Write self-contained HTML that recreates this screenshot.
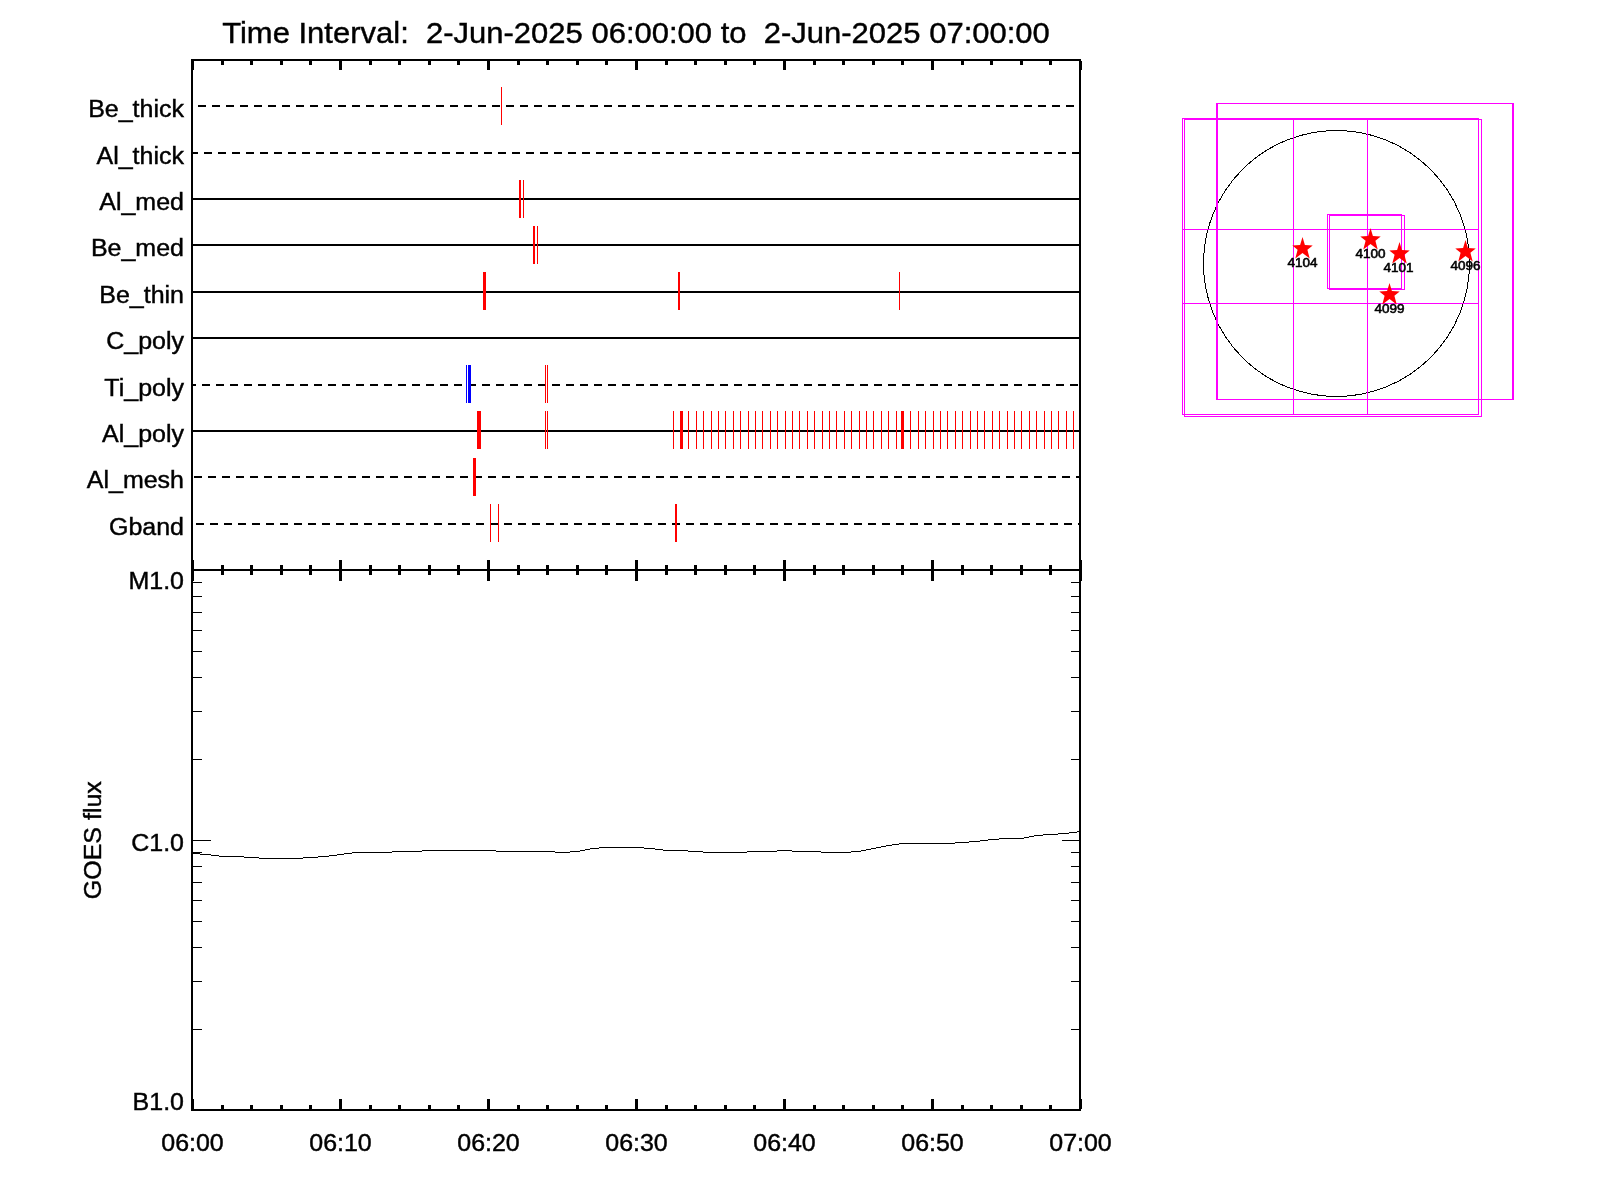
<!DOCTYPE html>
<html><head><meta charset="utf-8"><style>
html,body{margin:0;padding:0;background:#fff;width:1600px;height:1200px;overflow:hidden}
svg{position:absolute;left:0;top:0;will-change:transform}
text{font-family:"Liberation Sans",sans-serif;fill:#000;stroke:#000;stroke-width:0.45px;white-space:pre}
</style></head><body>
<svg width="1600" height="1200" viewBox="0 0 1600 1200">
<g shape-rendering="crispEdges">
<rect x="191" y="59" width="890" height="2" fill="#000"/>
<rect x="191" y="569" width="890" height="2" fill="#000"/>
<rect x="191" y="1109" width="890" height="2" fill="#000"/>
<rect x="191" y="59" width="2" height="1052" fill="#000"/>
<rect x="1079" y="59" width="2" height="1052" fill="#000"/>
<rect x="1081" y="569" width="1" height="2" fill="#000"/>
<rect x="191" y="61" width="3" height="9" fill="#000"/>
<rect x="191" y="560" width="3" height="9" fill="#000"/>
<rect x="191" y="571" width="3" height="10" fill="#000"/>
<rect x="191" y="1099" width="3" height="10" fill="#000"/>
<rect x="221" y="61" width="3" height="4" fill="#000"/>
<rect x="221" y="565" width="3" height="4" fill="#000"/>
<rect x="221" y="571" width="3" height="4" fill="#000"/>
<rect x="221" y="1105" width="3" height="4" fill="#000"/>
<rect x="250" y="61" width="3" height="4" fill="#000"/>
<rect x="250" y="565" width="3" height="4" fill="#000"/>
<rect x="250" y="571" width="3" height="4" fill="#000"/>
<rect x="250" y="1105" width="3" height="4" fill="#000"/>
<rect x="280" y="61" width="3" height="4" fill="#000"/>
<rect x="280" y="565" width="3" height="4" fill="#000"/>
<rect x="280" y="571" width="3" height="4" fill="#000"/>
<rect x="280" y="1105" width="3" height="4" fill="#000"/>
<rect x="309" y="61" width="3" height="4" fill="#000"/>
<rect x="309" y="565" width="3" height="4" fill="#000"/>
<rect x="309" y="571" width="3" height="4" fill="#000"/>
<rect x="309" y="1105" width="3" height="4" fill="#000"/>
<rect x="339" y="61" width="3" height="9" fill="#000"/>
<rect x="339" y="560" width="3" height="9" fill="#000"/>
<rect x="339" y="571" width="3" height="10" fill="#000"/>
<rect x="339" y="1099" width="3" height="10" fill="#000"/>
<rect x="369" y="61" width="3" height="4" fill="#000"/>
<rect x="369" y="565" width="3" height="4" fill="#000"/>
<rect x="369" y="571" width="3" height="4" fill="#000"/>
<rect x="369" y="1105" width="3" height="4" fill="#000"/>
<rect x="398" y="61" width="3" height="4" fill="#000"/>
<rect x="398" y="565" width="3" height="4" fill="#000"/>
<rect x="398" y="571" width="3" height="4" fill="#000"/>
<rect x="398" y="1105" width="3" height="4" fill="#000"/>
<rect x="428" y="61" width="3" height="4" fill="#000"/>
<rect x="428" y="565" width="3" height="4" fill="#000"/>
<rect x="428" y="571" width="3" height="4" fill="#000"/>
<rect x="428" y="1105" width="3" height="4" fill="#000"/>
<rect x="457" y="61" width="3" height="4" fill="#000"/>
<rect x="457" y="565" width="3" height="4" fill="#000"/>
<rect x="457" y="571" width="3" height="4" fill="#000"/>
<rect x="457" y="1105" width="3" height="4" fill="#000"/>
<rect x="487" y="61" width="3" height="9" fill="#000"/>
<rect x="487" y="560" width="3" height="9" fill="#000"/>
<rect x="487" y="571" width="3" height="10" fill="#000"/>
<rect x="487" y="1099" width="3" height="10" fill="#000"/>
<rect x="517" y="61" width="3" height="4" fill="#000"/>
<rect x="517" y="565" width="3" height="4" fill="#000"/>
<rect x="517" y="571" width="3" height="4" fill="#000"/>
<rect x="517" y="1105" width="3" height="4" fill="#000"/>
<rect x="546" y="61" width="3" height="4" fill="#000"/>
<rect x="546" y="565" width="3" height="4" fill="#000"/>
<rect x="546" y="571" width="3" height="4" fill="#000"/>
<rect x="546" y="1105" width="3" height="4" fill="#000"/>
<rect x="576" y="61" width="3" height="4" fill="#000"/>
<rect x="576" y="565" width="3" height="4" fill="#000"/>
<rect x="576" y="571" width="3" height="4" fill="#000"/>
<rect x="576" y="1105" width="3" height="4" fill="#000"/>
<rect x="605" y="61" width="3" height="4" fill="#000"/>
<rect x="605" y="565" width="3" height="4" fill="#000"/>
<rect x="605" y="571" width="3" height="4" fill="#000"/>
<rect x="605" y="1105" width="3" height="4" fill="#000"/>
<rect x="635" y="61" width="3" height="9" fill="#000"/>
<rect x="635" y="560" width="3" height="9" fill="#000"/>
<rect x="635" y="571" width="3" height="10" fill="#000"/>
<rect x="635" y="1099" width="3" height="10" fill="#000"/>
<rect x="665" y="61" width="3" height="4" fill="#000"/>
<rect x="665" y="565" width="3" height="4" fill="#000"/>
<rect x="665" y="571" width="3" height="4" fill="#000"/>
<rect x="665" y="1105" width="3" height="4" fill="#000"/>
<rect x="694" y="61" width="3" height="4" fill="#000"/>
<rect x="694" y="565" width="3" height="4" fill="#000"/>
<rect x="694" y="571" width="3" height="4" fill="#000"/>
<rect x="694" y="1105" width="3" height="4" fill="#000"/>
<rect x="724" y="61" width="3" height="4" fill="#000"/>
<rect x="724" y="565" width="3" height="4" fill="#000"/>
<rect x="724" y="571" width="3" height="4" fill="#000"/>
<rect x="724" y="1105" width="3" height="4" fill="#000"/>
<rect x="753" y="61" width="3" height="4" fill="#000"/>
<rect x="753" y="565" width="3" height="4" fill="#000"/>
<rect x="753" y="571" width="3" height="4" fill="#000"/>
<rect x="753" y="1105" width="3" height="4" fill="#000"/>
<rect x="783" y="61" width="3" height="9" fill="#000"/>
<rect x="783" y="560" width="3" height="9" fill="#000"/>
<rect x="783" y="571" width="3" height="10" fill="#000"/>
<rect x="783" y="1099" width="3" height="10" fill="#000"/>
<rect x="813" y="61" width="3" height="4" fill="#000"/>
<rect x="813" y="565" width="3" height="4" fill="#000"/>
<rect x="813" y="571" width="3" height="4" fill="#000"/>
<rect x="813" y="1105" width="3" height="4" fill="#000"/>
<rect x="842" y="61" width="3" height="4" fill="#000"/>
<rect x="842" y="565" width="3" height="4" fill="#000"/>
<rect x="842" y="571" width="3" height="4" fill="#000"/>
<rect x="842" y="1105" width="3" height="4" fill="#000"/>
<rect x="872" y="61" width="3" height="4" fill="#000"/>
<rect x="872" y="565" width="3" height="4" fill="#000"/>
<rect x="872" y="571" width="3" height="4" fill="#000"/>
<rect x="872" y="1105" width="3" height="4" fill="#000"/>
<rect x="901" y="61" width="3" height="4" fill="#000"/>
<rect x="901" y="565" width="3" height="4" fill="#000"/>
<rect x="901" y="571" width="3" height="4" fill="#000"/>
<rect x="901" y="1105" width="3" height="4" fill="#000"/>
<rect x="931" y="61" width="3" height="9" fill="#000"/>
<rect x="931" y="560" width="3" height="9" fill="#000"/>
<rect x="931" y="571" width="3" height="10" fill="#000"/>
<rect x="931" y="1099" width="3" height="10" fill="#000"/>
<rect x="961" y="61" width="3" height="4" fill="#000"/>
<rect x="961" y="565" width="3" height="4" fill="#000"/>
<rect x="961" y="571" width="3" height="4" fill="#000"/>
<rect x="961" y="1105" width="3" height="4" fill="#000"/>
<rect x="990" y="61" width="3" height="4" fill="#000"/>
<rect x="990" y="565" width="3" height="4" fill="#000"/>
<rect x="990" y="571" width="3" height="4" fill="#000"/>
<rect x="990" y="1105" width="3" height="4" fill="#000"/>
<rect x="1020" y="61" width="3" height="4" fill="#000"/>
<rect x="1020" y="565" width="3" height="4" fill="#000"/>
<rect x="1020" y="571" width="3" height="4" fill="#000"/>
<rect x="1020" y="1105" width="3" height="4" fill="#000"/>
<rect x="1049" y="61" width="3" height="4" fill="#000"/>
<rect x="1049" y="565" width="3" height="4" fill="#000"/>
<rect x="1049" y="571" width="3" height="4" fill="#000"/>
<rect x="1049" y="1105" width="3" height="4" fill="#000"/>
<rect x="1079" y="61" width="3" height="9" fill="#000"/>
<rect x="1079" y="560" width="3" height="9" fill="#000"/>
<rect x="1079" y="571" width="3" height="10" fill="#000"/>
<rect x="1079" y="1099" width="3" height="10" fill="#000"/>
<rect x="193" y="759" width="9" height="1" fill="#000"/>
<rect x="1071" y="759" width="8" height="1" fill="#000"/>
<rect x="193" y="711" width="9" height="1" fill="#000"/>
<rect x="1071" y="711" width="8" height="1" fill="#000"/>
<rect x="193" y="677" width="9" height="1" fill="#000"/>
<rect x="1071" y="677" width="8" height="1" fill="#000"/>
<rect x="193" y="651" width="9" height="1" fill="#000"/>
<rect x="1071" y="651" width="8" height="1" fill="#000"/>
<rect x="193" y="630" width="9" height="1" fill="#000"/>
<rect x="1071" y="630" width="8" height="1" fill="#000"/>
<rect x="193" y="612" width="9" height="1" fill="#000"/>
<rect x="1071" y="612" width="8" height="1" fill="#000"/>
<rect x="193" y="596" width="9" height="1" fill="#000"/>
<rect x="1071" y="596" width="8" height="1" fill="#000"/>
<rect x="193" y="582" width="9" height="1" fill="#000"/>
<rect x="1071" y="582" width="8" height="1" fill="#000"/>
<rect x="193" y="1029" width="9" height="1" fill="#000"/>
<rect x="1071" y="1029" width="8" height="1" fill="#000"/>
<rect x="193" y="981" width="9" height="1" fill="#000"/>
<rect x="1071" y="981" width="8" height="1" fill="#000"/>
<rect x="193" y="947" width="9" height="1" fill="#000"/>
<rect x="1071" y="947" width="8" height="1" fill="#000"/>
<rect x="193" y="921" width="9" height="1" fill="#000"/>
<rect x="1071" y="921" width="8" height="1" fill="#000"/>
<rect x="193" y="900" width="9" height="1" fill="#000"/>
<rect x="1071" y="900" width="8" height="1" fill="#000"/>
<rect x="193" y="882" width="9" height="1" fill="#000"/>
<rect x="1071" y="882" width="8" height="1" fill="#000"/>
<rect x="193" y="866" width="9" height="1" fill="#000"/>
<rect x="1071" y="866" width="8" height="1" fill="#000"/>
<rect x="193" y="852" width="9" height="1" fill="#000"/>
<rect x="1071" y="852" width="8" height="1" fill="#000"/>
<rect x="193" y="840" width="18" height="1" fill="#000"/>
<rect x="1062" y="840" width="17" height="1" fill="#000"/>
<rect x="198" y="105" width="8" height="2" fill="#000"/>
<rect x="212" y="105" width="8" height="2" fill="#000"/>
<rect x="226" y="105" width="8" height="2" fill="#000"/>
<rect x="240" y="105" width="8" height="2" fill="#000"/>
<rect x="254" y="105" width="8" height="2" fill="#000"/>
<rect x="268" y="105" width="8" height="2" fill="#000"/>
<rect x="282" y="105" width="8" height="2" fill="#000"/>
<rect x="296" y="105" width="8" height="2" fill="#000"/>
<rect x="310" y="105" width="8" height="2" fill="#000"/>
<rect x="324" y="105" width="8" height="2" fill="#000"/>
<rect x="338" y="105" width="8" height="2" fill="#000"/>
<rect x="352" y="105" width="8" height="2" fill="#000"/>
<rect x="366" y="105" width="8" height="2" fill="#000"/>
<rect x="380" y="105" width="8" height="2" fill="#000"/>
<rect x="394" y="105" width="8" height="2" fill="#000"/>
<rect x="408" y="105" width="8" height="2" fill="#000"/>
<rect x="422" y="105" width="8" height="2" fill="#000"/>
<rect x="436" y="105" width="8" height="2" fill="#000"/>
<rect x="450" y="105" width="8" height="2" fill="#000"/>
<rect x="464" y="105" width="8" height="2" fill="#000"/>
<rect x="478" y="105" width="8" height="2" fill="#000"/>
<rect x="492" y="105" width="8" height="2" fill="#000"/>
<rect x="506" y="105" width="8" height="2" fill="#000"/>
<rect x="520" y="105" width="8" height="2" fill="#000"/>
<rect x="534" y="105" width="8" height="2" fill="#000"/>
<rect x="548" y="105" width="8" height="2" fill="#000"/>
<rect x="562" y="105" width="8" height="2" fill="#000"/>
<rect x="576" y="105" width="8" height="2" fill="#000"/>
<rect x="590" y="105" width="8" height="2" fill="#000"/>
<rect x="604" y="105" width="8" height="2" fill="#000"/>
<rect x="618" y="105" width="8" height="2" fill="#000"/>
<rect x="632" y="105" width="8" height="2" fill="#000"/>
<rect x="646" y="105" width="8" height="2" fill="#000"/>
<rect x="660" y="105" width="8" height="2" fill="#000"/>
<rect x="674" y="105" width="8" height="2" fill="#000"/>
<rect x="688" y="105" width="8" height="2" fill="#000"/>
<rect x="702" y="105" width="8" height="2" fill="#000"/>
<rect x="716" y="105" width="8" height="2" fill="#000"/>
<rect x="730" y="105" width="8" height="2" fill="#000"/>
<rect x="744" y="105" width="8" height="2" fill="#000"/>
<rect x="758" y="105" width="8" height="2" fill="#000"/>
<rect x="772" y="105" width="8" height="2" fill="#000"/>
<rect x="786" y="105" width="8" height="2" fill="#000"/>
<rect x="800" y="105" width="8" height="2" fill="#000"/>
<rect x="814" y="105" width="8" height="2" fill="#000"/>
<rect x="828" y="105" width="8" height="2" fill="#000"/>
<rect x="842" y="105" width="8" height="2" fill="#000"/>
<rect x="856" y="105" width="8" height="2" fill="#000"/>
<rect x="870" y="105" width="8" height="2" fill="#000"/>
<rect x="884" y="105" width="8" height="2" fill="#000"/>
<rect x="898" y="105" width="8" height="2" fill="#000"/>
<rect x="912" y="105" width="8" height="2" fill="#000"/>
<rect x="926" y="105" width="8" height="2" fill="#000"/>
<rect x="940" y="105" width="8" height="2" fill="#000"/>
<rect x="954" y="105" width="8" height="2" fill="#000"/>
<rect x="968" y="105" width="8" height="2" fill="#000"/>
<rect x="982" y="105" width="8" height="2" fill="#000"/>
<rect x="996" y="105" width="8" height="2" fill="#000"/>
<rect x="1010" y="105" width="8" height="2" fill="#000"/>
<rect x="1024" y="105" width="8" height="2" fill="#000"/>
<rect x="1038" y="105" width="8" height="2" fill="#000"/>
<rect x="1052" y="105" width="8" height="2" fill="#000"/>
<rect x="1066" y="105" width="8" height="2" fill="#000"/>
<rect x="193" y="152" width="5" height="2" fill="#000"/>
<rect x="204" y="152" width="8" height="2" fill="#000"/>
<rect x="218" y="152" width="8" height="2" fill="#000"/>
<rect x="232" y="152" width="8" height="2" fill="#000"/>
<rect x="246" y="152" width="8" height="2" fill="#000"/>
<rect x="260" y="152" width="8" height="2" fill="#000"/>
<rect x="274" y="152" width="8" height="2" fill="#000"/>
<rect x="288" y="152" width="8" height="2" fill="#000"/>
<rect x="302" y="152" width="8" height="2" fill="#000"/>
<rect x="316" y="152" width="8" height="2" fill="#000"/>
<rect x="330" y="152" width="8" height="2" fill="#000"/>
<rect x="344" y="152" width="8" height="2" fill="#000"/>
<rect x="358" y="152" width="8" height="2" fill="#000"/>
<rect x="372" y="152" width="8" height="2" fill="#000"/>
<rect x="386" y="152" width="8" height="2" fill="#000"/>
<rect x="400" y="152" width="8" height="2" fill="#000"/>
<rect x="414" y="152" width="8" height="2" fill="#000"/>
<rect x="428" y="152" width="8" height="2" fill="#000"/>
<rect x="442" y="152" width="8" height="2" fill="#000"/>
<rect x="456" y="152" width="8" height="2" fill="#000"/>
<rect x="470" y="152" width="8" height="2" fill="#000"/>
<rect x="484" y="152" width="8" height="2" fill="#000"/>
<rect x="498" y="152" width="8" height="2" fill="#000"/>
<rect x="512" y="152" width="8" height="2" fill="#000"/>
<rect x="526" y="152" width="8" height="2" fill="#000"/>
<rect x="540" y="152" width="8" height="2" fill="#000"/>
<rect x="554" y="152" width="8" height="2" fill="#000"/>
<rect x="568" y="152" width="8" height="2" fill="#000"/>
<rect x="582" y="152" width="8" height="2" fill="#000"/>
<rect x="596" y="152" width="8" height="2" fill="#000"/>
<rect x="610" y="152" width="8" height="2" fill="#000"/>
<rect x="624" y="152" width="8" height="2" fill="#000"/>
<rect x="638" y="152" width="8" height="2" fill="#000"/>
<rect x="652" y="152" width="8" height="2" fill="#000"/>
<rect x="666" y="152" width="8" height="2" fill="#000"/>
<rect x="680" y="152" width="8" height="2" fill="#000"/>
<rect x="694" y="152" width="8" height="2" fill="#000"/>
<rect x="708" y="152" width="8" height="2" fill="#000"/>
<rect x="722" y="152" width="8" height="2" fill="#000"/>
<rect x="736" y="152" width="8" height="2" fill="#000"/>
<rect x="750" y="152" width="8" height="2" fill="#000"/>
<rect x="764" y="152" width="8" height="2" fill="#000"/>
<rect x="778" y="152" width="8" height="2" fill="#000"/>
<rect x="792" y="152" width="8" height="2" fill="#000"/>
<rect x="806" y="152" width="8" height="2" fill="#000"/>
<rect x="820" y="152" width="8" height="2" fill="#000"/>
<rect x="834" y="152" width="8" height="2" fill="#000"/>
<rect x="848" y="152" width="8" height="2" fill="#000"/>
<rect x="862" y="152" width="8" height="2" fill="#000"/>
<rect x="876" y="152" width="8" height="2" fill="#000"/>
<rect x="890" y="152" width="8" height="2" fill="#000"/>
<rect x="904" y="152" width="8" height="2" fill="#000"/>
<rect x="918" y="152" width="8" height="2" fill="#000"/>
<rect x="932" y="152" width="8" height="2" fill="#000"/>
<rect x="946" y="152" width="8" height="2" fill="#000"/>
<rect x="960" y="152" width="8" height="2" fill="#000"/>
<rect x="974" y="152" width="8" height="2" fill="#000"/>
<rect x="988" y="152" width="8" height="2" fill="#000"/>
<rect x="1002" y="152" width="8" height="2" fill="#000"/>
<rect x="1016" y="152" width="8" height="2" fill="#000"/>
<rect x="1030" y="152" width="8" height="2" fill="#000"/>
<rect x="1044" y="152" width="8" height="2" fill="#000"/>
<rect x="1058" y="152" width="8" height="2" fill="#000"/>
<rect x="1072" y="152" width="7" height="2" fill="#000"/>
<rect x="193" y="198" width="886" height="2" fill="#000"/>
<rect x="193" y="244" width="886" height="2" fill="#000"/>
<rect x="193" y="291" width="886" height="2" fill="#000"/>
<rect x="193" y="337" width="886" height="2" fill="#000"/>
<rect x="193" y="384" width="3" height="2" fill="#000"/>
<rect x="202" y="384" width="8" height="2" fill="#000"/>
<rect x="216" y="384" width="8" height="2" fill="#000"/>
<rect x="230" y="384" width="8" height="2" fill="#000"/>
<rect x="244" y="384" width="8" height="2" fill="#000"/>
<rect x="258" y="384" width="8" height="2" fill="#000"/>
<rect x="272" y="384" width="8" height="2" fill="#000"/>
<rect x="286" y="384" width="8" height="2" fill="#000"/>
<rect x="300" y="384" width="8" height="2" fill="#000"/>
<rect x="314" y="384" width="8" height="2" fill="#000"/>
<rect x="328" y="384" width="8" height="2" fill="#000"/>
<rect x="342" y="384" width="8" height="2" fill="#000"/>
<rect x="356" y="384" width="8" height="2" fill="#000"/>
<rect x="370" y="384" width="8" height="2" fill="#000"/>
<rect x="384" y="384" width="8" height="2" fill="#000"/>
<rect x="398" y="384" width="8" height="2" fill="#000"/>
<rect x="412" y="384" width="8" height="2" fill="#000"/>
<rect x="426" y="384" width="8" height="2" fill="#000"/>
<rect x="440" y="384" width="8" height="2" fill="#000"/>
<rect x="454" y="384" width="8" height="2" fill="#000"/>
<rect x="468" y="384" width="8" height="2" fill="#000"/>
<rect x="482" y="384" width="8" height="2" fill="#000"/>
<rect x="496" y="384" width="8" height="2" fill="#000"/>
<rect x="510" y="384" width="8" height="2" fill="#000"/>
<rect x="524" y="384" width="8" height="2" fill="#000"/>
<rect x="538" y="384" width="8" height="2" fill="#000"/>
<rect x="552" y="384" width="8" height="2" fill="#000"/>
<rect x="566" y="384" width="8" height="2" fill="#000"/>
<rect x="580" y="384" width="8" height="2" fill="#000"/>
<rect x="594" y="384" width="8" height="2" fill="#000"/>
<rect x="608" y="384" width="8" height="2" fill="#000"/>
<rect x="622" y="384" width="8" height="2" fill="#000"/>
<rect x="636" y="384" width="8" height="2" fill="#000"/>
<rect x="650" y="384" width="8" height="2" fill="#000"/>
<rect x="664" y="384" width="8" height="2" fill="#000"/>
<rect x="678" y="384" width="8" height="2" fill="#000"/>
<rect x="692" y="384" width="8" height="2" fill="#000"/>
<rect x="706" y="384" width="8" height="2" fill="#000"/>
<rect x="720" y="384" width="8" height="2" fill="#000"/>
<rect x="734" y="384" width="8" height="2" fill="#000"/>
<rect x="748" y="384" width="8" height="2" fill="#000"/>
<rect x="762" y="384" width="8" height="2" fill="#000"/>
<rect x="776" y="384" width="8" height="2" fill="#000"/>
<rect x="790" y="384" width="8" height="2" fill="#000"/>
<rect x="804" y="384" width="8" height="2" fill="#000"/>
<rect x="818" y="384" width="8" height="2" fill="#000"/>
<rect x="832" y="384" width="8" height="2" fill="#000"/>
<rect x="846" y="384" width="8" height="2" fill="#000"/>
<rect x="860" y="384" width="8" height="2" fill="#000"/>
<rect x="874" y="384" width="8" height="2" fill="#000"/>
<rect x="888" y="384" width="8" height="2" fill="#000"/>
<rect x="902" y="384" width="8" height="2" fill="#000"/>
<rect x="916" y="384" width="8" height="2" fill="#000"/>
<rect x="930" y="384" width="8" height="2" fill="#000"/>
<rect x="944" y="384" width="8" height="2" fill="#000"/>
<rect x="958" y="384" width="8" height="2" fill="#000"/>
<rect x="972" y="384" width="8" height="2" fill="#000"/>
<rect x="986" y="384" width="8" height="2" fill="#000"/>
<rect x="1000" y="384" width="8" height="2" fill="#000"/>
<rect x="1014" y="384" width="8" height="2" fill="#000"/>
<rect x="1028" y="384" width="8" height="2" fill="#000"/>
<rect x="1042" y="384" width="8" height="2" fill="#000"/>
<rect x="1056" y="384" width="8" height="2" fill="#000"/>
<rect x="1070" y="384" width="8" height="2" fill="#000"/>
<rect x="193" y="430" width="886" height="2" fill="#000"/>
<rect x="194" y="476" width="8" height="2" fill="#000"/>
<rect x="208" y="476" width="8" height="2" fill="#000"/>
<rect x="222" y="476" width="8" height="2" fill="#000"/>
<rect x="236" y="476" width="8" height="2" fill="#000"/>
<rect x="250" y="476" width="8" height="2" fill="#000"/>
<rect x="264" y="476" width="8" height="2" fill="#000"/>
<rect x="278" y="476" width="8" height="2" fill="#000"/>
<rect x="292" y="476" width="8" height="2" fill="#000"/>
<rect x="306" y="476" width="8" height="2" fill="#000"/>
<rect x="320" y="476" width="8" height="2" fill="#000"/>
<rect x="334" y="476" width="8" height="2" fill="#000"/>
<rect x="348" y="476" width="8" height="2" fill="#000"/>
<rect x="362" y="476" width="8" height="2" fill="#000"/>
<rect x="376" y="476" width="8" height="2" fill="#000"/>
<rect x="390" y="476" width="8" height="2" fill="#000"/>
<rect x="404" y="476" width="8" height="2" fill="#000"/>
<rect x="418" y="476" width="8" height="2" fill="#000"/>
<rect x="432" y="476" width="8" height="2" fill="#000"/>
<rect x="446" y="476" width="8" height="2" fill="#000"/>
<rect x="460" y="476" width="8" height="2" fill="#000"/>
<rect x="474" y="476" width="8" height="2" fill="#000"/>
<rect x="488" y="476" width="8" height="2" fill="#000"/>
<rect x="502" y="476" width="8" height="2" fill="#000"/>
<rect x="516" y="476" width="8" height="2" fill="#000"/>
<rect x="530" y="476" width="8" height="2" fill="#000"/>
<rect x="544" y="476" width="8" height="2" fill="#000"/>
<rect x="558" y="476" width="8" height="2" fill="#000"/>
<rect x="572" y="476" width="8" height="2" fill="#000"/>
<rect x="586" y="476" width="8" height="2" fill="#000"/>
<rect x="600" y="476" width="8" height="2" fill="#000"/>
<rect x="614" y="476" width="8" height="2" fill="#000"/>
<rect x="628" y="476" width="8" height="2" fill="#000"/>
<rect x="642" y="476" width="8" height="2" fill="#000"/>
<rect x="656" y="476" width="8" height="2" fill="#000"/>
<rect x="670" y="476" width="8" height="2" fill="#000"/>
<rect x="684" y="476" width="8" height="2" fill="#000"/>
<rect x="698" y="476" width="8" height="2" fill="#000"/>
<rect x="712" y="476" width="8" height="2" fill="#000"/>
<rect x="726" y="476" width="8" height="2" fill="#000"/>
<rect x="740" y="476" width="8" height="2" fill="#000"/>
<rect x="754" y="476" width="8" height="2" fill="#000"/>
<rect x="768" y="476" width="8" height="2" fill="#000"/>
<rect x="782" y="476" width="8" height="2" fill="#000"/>
<rect x="796" y="476" width="8" height="2" fill="#000"/>
<rect x="810" y="476" width="8" height="2" fill="#000"/>
<rect x="824" y="476" width="8" height="2" fill="#000"/>
<rect x="838" y="476" width="8" height="2" fill="#000"/>
<rect x="852" y="476" width="8" height="2" fill="#000"/>
<rect x="866" y="476" width="8" height="2" fill="#000"/>
<rect x="880" y="476" width="8" height="2" fill="#000"/>
<rect x="894" y="476" width="8" height="2" fill="#000"/>
<rect x="908" y="476" width="8" height="2" fill="#000"/>
<rect x="922" y="476" width="8" height="2" fill="#000"/>
<rect x="936" y="476" width="8" height="2" fill="#000"/>
<rect x="950" y="476" width="8" height="2" fill="#000"/>
<rect x="964" y="476" width="8" height="2" fill="#000"/>
<rect x="978" y="476" width="8" height="2" fill="#000"/>
<rect x="992" y="476" width="8" height="2" fill="#000"/>
<rect x="1006" y="476" width="8" height="2" fill="#000"/>
<rect x="1020" y="476" width="8" height="2" fill="#000"/>
<rect x="1034" y="476" width="8" height="2" fill="#000"/>
<rect x="1048" y="476" width="8" height="2" fill="#000"/>
<rect x="1062" y="476" width="8" height="2" fill="#000"/>
<rect x="1076" y="476" width="3" height="2" fill="#000"/>
<rect x="196" y="523" width="8" height="2" fill="#000"/>
<rect x="210" y="523" width="8" height="2" fill="#000"/>
<rect x="224" y="523" width="8" height="2" fill="#000"/>
<rect x="238" y="523" width="8" height="2" fill="#000"/>
<rect x="252" y="523" width="8" height="2" fill="#000"/>
<rect x="266" y="523" width="8" height="2" fill="#000"/>
<rect x="280" y="523" width="8" height="2" fill="#000"/>
<rect x="294" y="523" width="8" height="2" fill="#000"/>
<rect x="308" y="523" width="8" height="2" fill="#000"/>
<rect x="322" y="523" width="8" height="2" fill="#000"/>
<rect x="336" y="523" width="8" height="2" fill="#000"/>
<rect x="350" y="523" width="8" height="2" fill="#000"/>
<rect x="364" y="523" width="8" height="2" fill="#000"/>
<rect x="378" y="523" width="8" height="2" fill="#000"/>
<rect x="392" y="523" width="8" height="2" fill="#000"/>
<rect x="406" y="523" width="8" height="2" fill="#000"/>
<rect x="420" y="523" width="8" height="2" fill="#000"/>
<rect x="434" y="523" width="8" height="2" fill="#000"/>
<rect x="448" y="523" width="8" height="2" fill="#000"/>
<rect x="462" y="523" width="8" height="2" fill="#000"/>
<rect x="476" y="523" width="8" height="2" fill="#000"/>
<rect x="490" y="523" width="8" height="2" fill="#000"/>
<rect x="504" y="523" width="8" height="2" fill="#000"/>
<rect x="518" y="523" width="8" height="2" fill="#000"/>
<rect x="532" y="523" width="8" height="2" fill="#000"/>
<rect x="546" y="523" width="8" height="2" fill="#000"/>
<rect x="560" y="523" width="8" height="2" fill="#000"/>
<rect x="574" y="523" width="8" height="2" fill="#000"/>
<rect x="588" y="523" width="8" height="2" fill="#000"/>
<rect x="602" y="523" width="8" height="2" fill="#000"/>
<rect x="616" y="523" width="8" height="2" fill="#000"/>
<rect x="630" y="523" width="8" height="2" fill="#000"/>
<rect x="644" y="523" width="8" height="2" fill="#000"/>
<rect x="658" y="523" width="8" height="2" fill="#000"/>
<rect x="672" y="523" width="8" height="2" fill="#000"/>
<rect x="686" y="523" width="8" height="2" fill="#000"/>
<rect x="700" y="523" width="8" height="2" fill="#000"/>
<rect x="714" y="523" width="8" height="2" fill="#000"/>
<rect x="728" y="523" width="8" height="2" fill="#000"/>
<rect x="742" y="523" width="8" height="2" fill="#000"/>
<rect x="756" y="523" width="8" height="2" fill="#000"/>
<rect x="770" y="523" width="8" height="2" fill="#000"/>
<rect x="784" y="523" width="8" height="2" fill="#000"/>
<rect x="798" y="523" width="8" height="2" fill="#000"/>
<rect x="812" y="523" width="8" height="2" fill="#000"/>
<rect x="826" y="523" width="8" height="2" fill="#000"/>
<rect x="840" y="523" width="8" height="2" fill="#000"/>
<rect x="854" y="523" width="8" height="2" fill="#000"/>
<rect x="868" y="523" width="8" height="2" fill="#000"/>
<rect x="882" y="523" width="8" height="2" fill="#000"/>
<rect x="896" y="523" width="8" height="2" fill="#000"/>
<rect x="910" y="523" width="8" height="2" fill="#000"/>
<rect x="924" y="523" width="8" height="2" fill="#000"/>
<rect x="938" y="523" width="8" height="2" fill="#000"/>
<rect x="952" y="523" width="8" height="2" fill="#000"/>
<rect x="966" y="523" width="8" height="2" fill="#000"/>
<rect x="980" y="523" width="8" height="2" fill="#000"/>
<rect x="994" y="523" width="8" height="2" fill="#000"/>
<rect x="1008" y="523" width="8" height="2" fill="#000"/>
<rect x="1022" y="523" width="8" height="2" fill="#000"/>
<rect x="1036" y="523" width="8" height="2" fill="#000"/>
<rect x="1050" y="523" width="8" height="2" fill="#000"/>
<rect x="1064" y="523" width="8" height="2" fill="#000"/>
<rect x="1078" y="523" width="1" height="2" fill="#000"/>
<rect x="501" y="87" width="1" height="38" fill="#ff0000"/>
<rect x="519" y="180" width="2" height="38" fill="#ff0000"/>
<rect x="523" y="180" width="1" height="38" fill="#ff0000"/>
<rect x="533" y="226" width="2" height="38" fill="#ff0000"/>
<rect x="537" y="226" width="1" height="38" fill="#ff0000"/>
<rect x="483" y="272" width="3" height="38" fill="#ff0000"/>
<rect x="678" y="272" width="2" height="38" fill="#ff0000"/>
<rect x="899" y="272" width="1" height="38" fill="#ff0000"/>
<rect x="466" y="365" width="1" height="38" fill="#0000ff"/>
<rect x="468" y="365" width="3" height="38" fill="#0000ff"/>
<rect x="545" y="365" width="1" height="38" fill="#ff0000"/>
<rect x="547" y="365" width="1" height="38" fill="#ff0000"/>
<rect x="477" y="411" width="4" height="38" fill="#ff0000"/>
<rect x="545" y="411" width="1" height="38" fill="#ff0000"/>
<rect x="547" y="411" width="1" height="38" fill="#ff0000"/>
<rect x="673" y="411" width="1" height="38" fill="#ff0000"/>
<rect x="680" y="411" width="3" height="38" fill="#ff0000"/>
<rect x="688" y="411" width="1" height="38" fill="#ff0000"/>
<rect x="696" y="411" width="1" height="38" fill="#ff0000"/>
<rect x="703" y="411" width="1" height="38" fill="#ff0000"/>
<rect x="711" y="411" width="1" height="38" fill="#ff0000"/>
<rect x="718" y="411" width="1" height="38" fill="#ff0000"/>
<rect x="725" y="411" width="1" height="38" fill="#ff0000"/>
<rect x="733" y="411" width="1" height="38" fill="#ff0000"/>
<rect x="740" y="411" width="1" height="38" fill="#ff0000"/>
<rect x="748" y="411" width="1" height="38" fill="#ff0000"/>
<rect x="755" y="411" width="1" height="38" fill="#ff0000"/>
<rect x="762" y="411" width="1" height="38" fill="#ff0000"/>
<rect x="770" y="411" width="1" height="38" fill="#ff0000"/>
<rect x="777" y="411" width="1" height="38" fill="#ff0000"/>
<rect x="785" y="411" width="1" height="38" fill="#ff0000"/>
<rect x="792" y="411" width="1" height="38" fill="#ff0000"/>
<rect x="799" y="411" width="1" height="38" fill="#ff0000"/>
<rect x="807" y="411" width="1" height="38" fill="#ff0000"/>
<rect x="814" y="411" width="1" height="38" fill="#ff0000"/>
<rect x="822" y="411" width="1" height="38" fill="#ff0000"/>
<rect x="829" y="411" width="1" height="38" fill="#ff0000"/>
<rect x="836" y="411" width="1" height="38" fill="#ff0000"/>
<rect x="844" y="411" width="1" height="38" fill="#ff0000"/>
<rect x="851" y="411" width="1" height="38" fill="#ff0000"/>
<rect x="859" y="411" width="1" height="38" fill="#ff0000"/>
<rect x="866" y="411" width="1" height="38" fill="#ff0000"/>
<rect x="873" y="411" width="1" height="38" fill="#ff0000"/>
<rect x="881" y="411" width="1" height="38" fill="#ff0000"/>
<rect x="888" y="411" width="1" height="38" fill="#ff0000"/>
<rect x="896" y="411" width="1" height="38" fill="#ff0000"/>
<rect x="901" y="411" width="3" height="38" fill="#ff0000"/>
<rect x="910" y="411" width="1" height="38" fill="#ff0000"/>
<rect x="918" y="411" width="1" height="38" fill="#ff0000"/>
<rect x="925" y="411" width="1" height="38" fill="#ff0000"/>
<rect x="933" y="411" width="1" height="38" fill="#ff0000"/>
<rect x="940" y="411" width="1" height="38" fill="#ff0000"/>
<rect x="947" y="411" width="1" height="38" fill="#ff0000"/>
<rect x="955" y="411" width="1" height="38" fill="#ff0000"/>
<rect x="962" y="411" width="1" height="38" fill="#ff0000"/>
<rect x="970" y="411" width="1" height="38" fill="#ff0000"/>
<rect x="977" y="411" width="1" height="38" fill="#ff0000"/>
<rect x="984" y="411" width="1" height="38" fill="#ff0000"/>
<rect x="992" y="411" width="1" height="38" fill="#ff0000"/>
<rect x="999" y="411" width="1" height="38" fill="#ff0000"/>
<rect x="1007" y="411" width="1" height="38" fill="#ff0000"/>
<rect x="1014" y="411" width="1" height="38" fill="#ff0000"/>
<rect x="1021" y="411" width="1" height="38" fill="#ff0000"/>
<rect x="1029" y="411" width="1" height="38" fill="#ff0000"/>
<rect x="1036" y="411" width="1" height="38" fill="#ff0000"/>
<rect x="1044" y="411" width="1" height="38" fill="#ff0000"/>
<rect x="1051" y="411" width="1" height="38" fill="#ff0000"/>
<rect x="1058" y="411" width="1" height="38" fill="#ff0000"/>
<rect x="1066" y="411" width="1" height="38" fill="#ff0000"/>
<rect x="1073" y="411" width="1" height="38" fill="#ff0000"/>
<rect x="473" y="458" width="3" height="38" fill="#ff0000"/>
<rect x="490" y="504" width="1" height="38" fill="#ff0000"/>
<rect x="498" y="504" width="1" height="38" fill="#ff0000"/>
<rect x="675" y="504" width="2" height="38" fill="#ff0000"/>
<rect x="193" y="853" width="7" height="1" fill="#000"/>
<rect x="200" y="854" width="11" height="1" fill="#000"/>
<rect x="211" y="855" width="8" height="1" fill="#000"/>
<rect x="219" y="856" width="25" height="1" fill="#000"/>
<rect x="244" y="857" width="15" height="1" fill="#000"/>
<rect x="259" y="858" width="44" height="1" fill="#000"/>
<rect x="303" y="857" width="15" height="1" fill="#000"/>
<rect x="318" y="856" width="11" height="1" fill="#000"/>
<rect x="329" y="855" width="8" height="1" fill="#000"/>
<rect x="337" y="854" width="7" height="1" fill="#000"/>
<rect x="344" y="853" width="8" height="1" fill="#000"/>
<rect x="352" y="852" width="40" height="1" fill="#000"/>
<rect x="392" y="851" width="30" height="1" fill="#000"/>
<rect x="422" y="850" width="74" height="1" fill="#000"/>
<rect x="496" y="851" width="59" height="1" fill="#000"/>
<rect x="555" y="852" width="15" height="1" fill="#000"/>
<rect x="570" y="851" width="10" height="1" fill="#000"/>
<rect x="580" y="850" width="5" height="1" fill="#000"/>
<rect x="585" y="849" width="5" height="1" fill="#000"/>
<rect x="590" y="848" width="9" height="1" fill="#000"/>
<rect x="599" y="847" width="45" height="1" fill="#000"/>
<rect x="644" y="848" width="11" height="1" fill="#000"/>
<rect x="655" y="849" width="8" height="1" fill="#000"/>
<rect x="663" y="850" width="25" height="1" fill="#000"/>
<rect x="688" y="851" width="15" height="1" fill="#000"/>
<rect x="703" y="852" width="44" height="1" fill="#000"/>
<rect x="747" y="851" width="30" height="1" fill="#000"/>
<rect x="777" y="850" width="15" height="1" fill="#000"/>
<rect x="792" y="851" width="29" height="1" fill="#000"/>
<rect x="821" y="852" width="30" height="1" fill="#000"/>
<rect x="851" y="851" width="10" height="1" fill="#000"/>
<rect x="861" y="850" width="5" height="1" fill="#000"/>
<rect x="866" y="849" width="5" height="1" fill="#000"/>
<rect x="871" y="848" width="5" height="1" fill="#000"/>
<rect x="876" y="847" width="5" height="1" fill="#000"/>
<rect x="881" y="846" width="5" height="1" fill="#000"/>
<rect x="886" y="845" width="6" height="1" fill="#000"/>
<rect x="892" y="844" width="7" height="1" fill="#000"/>
<rect x="899" y="843" width="56" height="1" fill="#000"/>
<rect x="955" y="842" width="14" height="1" fill="#000"/>
<rect x="969" y="841" width="11" height="1" fill="#000"/>
<rect x="980" y="840" width="8" height="1" fill="#000"/>
<rect x="988" y="839" width="11" height="1" fill="#000"/>
<rect x="999" y="838" width="25" height="1" fill="#000"/>
<rect x="1024" y="837" width="5" height="1" fill="#000"/>
<rect x="1029" y="836" width="5" height="1" fill="#000"/>
<rect x="1034" y="835" width="9" height="1" fill="#000"/>
<rect x="1043" y="834" width="15" height="1" fill="#000"/>
<rect x="1058" y="833" width="11" height="1" fill="#000"/>
<rect x="1069" y="832" width="8" height="1" fill="#000"/>
<rect x="1077" y="831" width="2" height="1" fill="#000"/>
</g>
<g shape-rendering="crispEdges">
<circle cx="1336.5" cy="263.5" r="133" fill="none" stroke="#000" stroke-width="1"/>
</g>
<g shape-rendering="crispEdges">
<rect x="1216" y="103" width="297" height="1" fill="#ff00ff"/>
<rect x="1216" y="399" width="297" height="1" fill="#ff00ff"/>
<rect x="1216" y="103" width="1" height="297" fill="#ff00ff"/>
<rect x="1512" y="103" width="1" height="297" fill="#ff00ff"/>
<rect x="1217" y="103" width="297" height="1" fill="#ff00ff"/>
<rect x="1217" y="399" width="297" height="1" fill="#ff00ff"/>
<rect x="1217" y="103" width="1" height="297" fill="#ff00ff"/>
<rect x="1513" y="103" width="1" height="297" fill="#ff00ff"/>
<rect x="1182" y="118" width="297" height="1" fill="#ff00ff"/>
<rect x="1182" y="414" width="297" height="1" fill="#ff00ff"/>
<rect x="1182" y="118" width="1" height="297" fill="#ff00ff"/>
<rect x="1478" y="118" width="1" height="297" fill="#ff00ff"/>
<rect x="1184" y="119" width="298" height="1" fill="#ff00ff"/>
<rect x="1184" y="416" width="298" height="1" fill="#ff00ff"/>
<rect x="1184" y="119" width="1" height="298" fill="#ff00ff"/>
<rect x="1481" y="119" width="1" height="298" fill="#ff00ff"/>
<rect x="1327" y="214" width="75" height="1" fill="#ff00ff"/>
<rect x="1327" y="288" width="75" height="1" fill="#ff00ff"/>
<rect x="1327" y="214" width="1" height="75" fill="#ff00ff"/>
<rect x="1401" y="214" width="1" height="75" fill="#ff00ff"/>
<rect x="1329" y="215" width="76" height="1" fill="#ff00ff"/>
<rect x="1329" y="289" width="76" height="1" fill="#ff00ff"/>
<rect x="1329" y="215" width="1" height="75" fill="#ff00ff"/>
<rect x="1404" y="215" width="1" height="75" fill="#ff00ff"/>
<rect x="1293" y="118" width="1" height="297" fill="#ff00ff"/>
<rect x="1367" y="118" width="1" height="297" fill="#ff00ff"/>
<rect x="1182" y="229" width="297" height="1" fill="#ff00ff"/>
<rect x="1182" y="303" width="297" height="1" fill="#ff00ff"/>
</g>
<g>
<polygon points="1302.50,237.00 1304.90,245.10 1312.70,245.40 1307.40,249.80 1309.70,258.60 1302.50,253.00 1295.30,258.60 1297.60,249.80 1292.30,245.40 1300.10,245.10" fill="#ff0000"/>
<polygon points="1370.50,228.00 1372.90,236.10 1380.70,236.40 1375.40,240.80 1377.70,249.60 1370.50,244.00 1363.30,249.60 1365.60,240.80 1360.30,236.40 1368.10,236.10" fill="#ff0000"/>
<polygon points="1399.50,242.00 1401.90,250.10 1409.70,250.40 1404.40,254.80 1406.70,263.60 1399.50,258.00 1392.30,263.60 1394.60,254.80 1389.30,250.40 1397.10,250.10" fill="#ff0000"/>
<polygon points="1465.50,240.00 1467.90,248.10 1475.70,248.40 1470.40,252.80 1472.70,261.60 1465.50,256.00 1458.30,261.60 1460.60,252.80 1455.30,248.40 1463.10,248.10" fill="#ff0000"/>
<polygon points="1389.50,283.00 1391.90,291.10 1399.70,291.40 1394.40,295.80 1396.70,304.60 1389.50,299.00 1382.30,304.60 1384.60,295.80 1379.30,291.40 1387.10,291.10" fill="#ff0000"/>
</g>
<g xml:space="preserve">
<text x="0" y="0" transform="translate(636,43) scale(1,0.98)" font-size="31" text-anchor="middle">Time Interval:  2-Jun-2025 06:00:00 to  2-Jun-2025 07:00:00</text>
<text x="0" y="0" transform="translate(184,117) scale(1,0.95)" font-size="25" text-anchor="end">Be_thick</text>
<text x="0" y="0" transform="translate(184,164) scale(1,0.95)" font-size="25" text-anchor="end">Al_thick</text>
<text x="0" y="0" transform="translate(184,210) scale(1,0.95)" font-size="25" text-anchor="end">Al_med</text>
<text x="0" y="0" transform="translate(184,256) scale(1,0.95)" font-size="25" text-anchor="end">Be_med</text>
<text x="0" y="0" transform="translate(184,303) scale(1,0.95)" font-size="25" text-anchor="end">Be_thin</text>
<text x="0" y="0" transform="translate(184,349) scale(1,0.95)" font-size="25" text-anchor="end">C_poly</text>
<text x="0" y="0" transform="translate(184,396) scale(1,0.95)" font-size="25" text-anchor="end">Ti_poly</text>
<text x="0" y="0" transform="translate(184,442) scale(1,0.95)" font-size="25" text-anchor="end">Al_poly</text>
<text x="0" y="0" transform="translate(184,488) scale(1,0.95)" font-size="25" text-anchor="end">Al_mesh</text>
<text x="0" y="0" transform="translate(184,535) scale(1,0.95)" font-size="25" text-anchor="end">Gband</text>
<text x="0" y="0" transform="translate(184,589) scale(1,0.95)" font-size="25" text-anchor="end">M1.0</text>
<text x="0" y="0" transform="translate(184,851) scale(1,0.95)" font-size="25" text-anchor="end">C1.0</text>
<text x="0" y="0" transform="translate(184,1110) scale(1,0.95)" font-size="25" text-anchor="end">B1.0</text>
<text x="0" y="0" transform="translate(192.5,1151) scale(1,0.95)" font-size="25" text-anchor="middle">06:00</text>
<text x="0" y="0" transform="translate(340.5,1151) scale(1,0.95)" font-size="25" text-anchor="middle">06:10</text>
<text x="0" y="0" transform="translate(488.5,1151) scale(1,0.95)" font-size="25" text-anchor="middle">06:20</text>
<text x="0" y="0" transform="translate(636.5,1151) scale(1,0.95)" font-size="25" text-anchor="middle">06:30</text>
<text x="0" y="0" transform="translate(784.5,1151) scale(1,0.95)" font-size="25" text-anchor="middle">06:40</text>
<text x="0" y="0" transform="translate(932.5,1151) scale(1,0.95)" font-size="25" text-anchor="middle">06:50</text>
<text x="0" y="0" transform="translate(1080.5,1151) scale(1,0.95)" font-size="25" text-anchor="middle">07:00</text>
<text x="0" y="0" font-size="25" text-anchor="middle" transform="translate(101,840.2) rotate(-90) scale(1,0.95)">GOES flux</text>
<text x="0" y="0" transform="translate(1302.5,267) scale(1,0.95)" font-size="13.5" style="stroke-width:0.6px" text-anchor="middle">4104</text>
<text x="0" y="0" transform="translate(1370.5,258) scale(1,0.95)" font-size="13.5" style="stroke-width:0.6px" text-anchor="middle">4100</text>
<text x="0" y="0" transform="translate(1398.5,272) scale(1,0.95)" font-size="13.5" style="stroke-width:0.6px" text-anchor="middle">4101</text>
<text x="0" y="0" transform="translate(1465.5,270) scale(1,0.95)" font-size="13.5" style="stroke-width:0.6px" text-anchor="middle">4096</text>
<text x="0" y="0" transform="translate(1389.5,313) scale(1,0.95)" font-size="13.5" style="stroke-width:0.6px" text-anchor="middle">4099</text>
</g>
</svg>
</body></html>
